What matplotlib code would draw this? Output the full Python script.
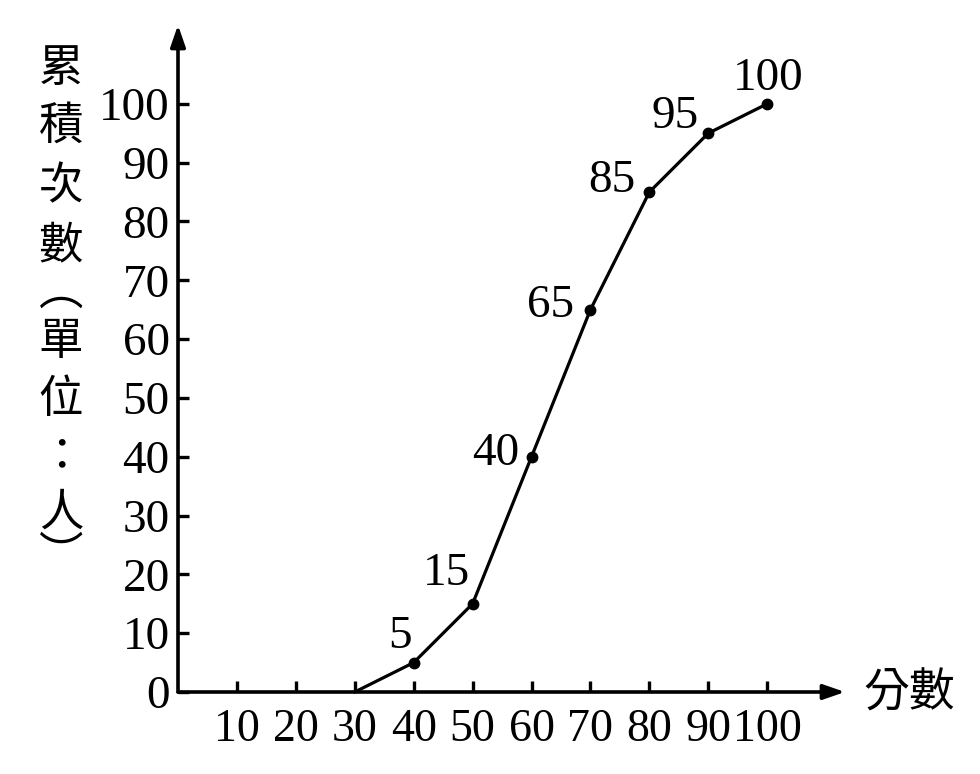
import matplotlib
matplotlib.use("Agg")
import matplotlib.pyplot as plt
from matplotlib.patches import Rectangle

# datos
puntajes = [30, 40, 50, 60, 70, 80, 90, 100]
acumulado = [0, 5, 15, 40, 65, 85, 95, 100]
marcas_x = [10, 20, 30, 40, 50, 60, 70, 80, 90, 100]
marcas_y = [0, 10, 20, 30, 40, 50, 60, 70, 80, 90, 100]
etiqueta_y = ["累", "積", "次", "數", "︵", "單", "位", "：", "人", "︶"]
etiqueta_x = "分數"

serif = "Liberation Serif"
cjk = ["Noto Sans CJK TC", "DejaVu Sans"]

fig = plt.figure(figsize=(9.8, 7.74), dpi=100)
ax = fig.add_axes([178 / 980, 82 / 774, 667 / 980, 667 / 774])
ax.set_xlim(0, 113.2)
ax.set_ylim(0, 113.4)

for s in ax.spines.values():
    s.set_visible(False)

# ejes con flechas
flecha = dict(arrowstyle="-|>,head_length=1.3,head_width=0.45",
              color="black", lw=2.6, shrinkA=0, shrinkB=0)
ax.annotate("", xy=(1, 0), xytext=(0, 0), xycoords="axes fraction", arrowprops=flecha)
ax.annotate("", xy=(0, 1), xytext=(0, 0), xycoords="axes fraction", arrowprops=flecha)

ax.set_xticks(marcas_x)
ax.set_yticks(marcas_y)
ax.set_xticklabels([str(v) for v in marcas_x], fontfamily=serif, fontsize=33)
ax.set_yticklabels([str(v) for v in marcas_y], fontfamily=serif, fontsize=34)
ax.tick_params(axis="both", direction="in", length=8, width=2.4, colors="black")
ax.tick_params(axis="x", pad=12)
ax.tick_params(axis="y", pad=6)

ax.plot(puntajes, acumulado, color="black", lw=2.3, clip_on=False)
ax.plot(puntajes[1:], acumulado[1:], "o", color="black", ms=7.5, clip_on=False)

# numeros junto a los puntos (desplazamiento en puntos, base de la linea)
desplaz = {5: (-10, 10.5), 15: (-19, 13.5), 40: (-26, -6), 65: (-29, -5),
           85: (-27, 0), 95: (-24, 4), 100: (0.5, 10)}
for x, y in zip(puntajes[1:], acumulado[1:]):
    dx, dy = desplaz[y]
    ax.annotate(str(y), (x, y), xytext=(dx, dy), textcoords="offset points",
                ha="center", va="baseline", fontfamily=serif, fontsize=34)

# etiqueta vertical del eje y
pos_y = [68, 126, 186, 245, 292, 341, 399, 456, 513, 556]
for ch, py in zip(etiqueta_y, pos_y):
    fig.text(61 / 980, 1 - py / 774, ch, ha="center", va="center",
             fontfamily=cjk, fontsize=32)

fig.text(909 / 980, 1 - 693 / 774, etiqueta_x, ha="center", va="center",
         fontfamily=cjk, fontsize=33)

# recorte inferior como en la imagen original
fig.patches.append(Rectangle((0, 0), 1, 31 / 774, transform=fig.transFigure,
                             facecolor="white", edgecolor="none", zorder=10))

fig.savefig("out.png", dpi=100, facecolor="white")
